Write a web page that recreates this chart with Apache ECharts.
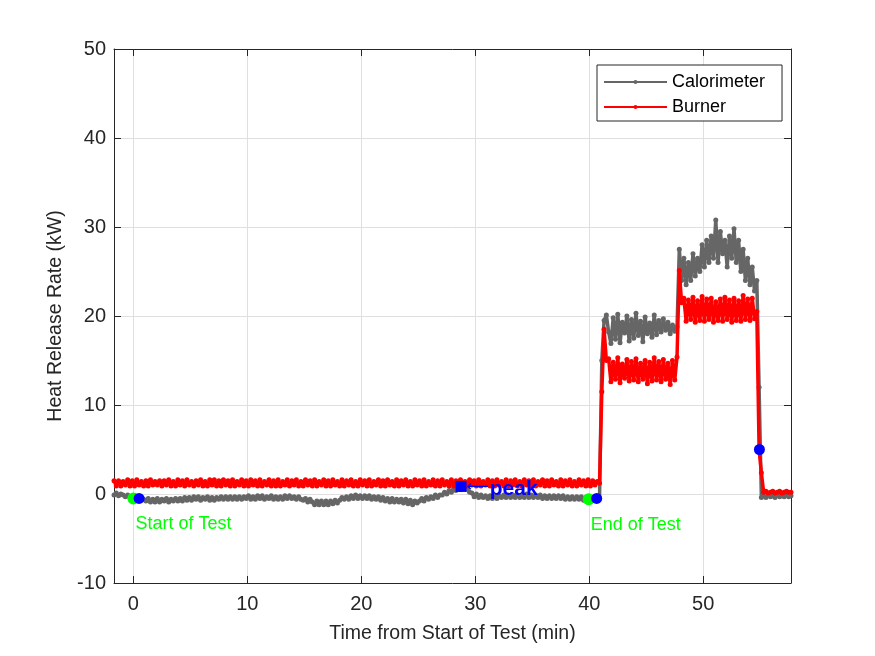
<!DOCTYPE html>
<html>
<head>
<meta charset="utf-8">
<title>Heat Release Rate</title>
<script src="https://cdn.jsdelivr.net/npm/echarts@6/dist/echarts.min.js"></script>
<style>
  html, body { margin: 0; padding: 0; background: #ffffff; }
  #chart { width: 875px; height: 656px; }
</style>
</head>
<body>
<div id="chart"></div>
<script>
// logged readings, one every 0.2 min starting at -1.7 min
var timeStart = -1.7;
var timeStep = 0.2;

// Calorimeter (kW)
var calorimeterBefore = [
  -0.1,0.1,-0.2,0.0,-0.1,-0.3,-0.1,-0.4,
  -0.3,-0.6,-0.4,-0.7,-0.5,-0.6,
  -0.8,-0.5,-0.9,-0.6,-0.9,-0.5,-0.9,-0.6,-0.8,-0.5,
  -0.9,-0.6,-0.8,-0.5,-0.8,-0.5,-0.8,-0.4,-0.7,-0.4,
  -0.7,-0.3,-0.6,-0.3,-0.7,-0.4,-0.6,-0.3,-0.7,-0.4,
  -0.7,-0.4,-0.6,-0.3,-0.6,-0.3,-0.6,-0.3,-0.6,-0.3,
  -0.6,-0.3,-0.6,-0.3,
  -0.5,-0.2,-0.6,-0.3,-0.6,-0.2,-0.5,-0.2,-0.6,-0.3,
  -0.5,-0.2,-0.6,-0.3,-0.6,-0.3,-0.6,-0.2,-0.5,-0.2,
  -0.5,-0.3,-0.6,-0.3,-0.6,
  -0.7,-0.5,-0.9,-0.6,-0.9,
  -1.2,-0.8,-1.2,-0.8,-1.2,-0.8,-1.2,-0.8,-1.1,-0.7,-1.0,
  -0.7,-0.4,-0.6,-0.3,-0.6,-0.2,-0.5,-0.1,-0.5,-0.2,
  -0.5,-0.2,-0.5,-0.2,-0.6,-0.3,-0.6,-0.3,-0.7,-0.4,
  -0.8,-0.5,-0.9,-0.5,-0.9,-0.6,-0.9,-0.6,-1.0,-0.6,-1.1,-0.7,-1.2,-0.8,-1.0,
  -0.8,-0.5,-0.8,-0.4,-0.6,-0.3,-0.5,-0.1,-0.4,-0.1,
  -0.1,0.2,0.0,0.4,0.2,0.6,0.4,0.8,0.5,0.9,0.6,0.5,0.2,
  0.1,-0.3,0.0,-0.4,-0.1,-0.4,-0.2,
  -0.5,-0.2,-0.5,-0.1,-0.5,-0.2,-0.4,-0.1,-0.4,-0.1,
  -0.4,-0.1,-0.4,-0.1,-0.4,-0.1,-0.4,0.0,-0.4,-0.1,
  -0.4,-0.1,-0.4,-0.1,-0.5,-0.2,-0.5,-0.2,-0.5,-0.2,
  -0.5,-0.2,-0.5,-0.2,-0.6,-0.3,-0.6,-0.3,-0.6,-0.3,
  -0.6,-0.3,-0.7,-0.4,
  -0.7,-0.4,-0.7,-0.4,-0.7,-0.5
];
var calorimeterStage1 = [
  15.0,19.5,20.1,
  18.2,16.9,19.8,17.4,20.2,17.0,19.3,18.1,20.0,17.2,
  19.6,17.5,20.3,17.8,19.4,17.1,19.9,18.0,19.2,17.6,
  20.1,17.9,19.5,18.2,19.7,18.4,19.3,18.0,19.0,18.3,
  18.8
];
var calorimeterStage2 = [
  27.5,24.0,
  26.5,23.5,26.0,24.0,27.0,24.5,26.5,25.0,28.0,25.5,
  28.5,26.0,29.0,26.5,30.8,26.0,29.5,27.0,28.5,25.5,
  29.0,26.5,29.8,26.0,28.5,25.0,27.5,24.0,26.5,23.5,
  25.5,22.8,
  24.0,12.0
];
var calorimeterAfter = [
  -0.4,-0.2,-0.4,-0.1,-0.3,-0.2,-0.4,-0.1,-0.3,-0.2,-0.3,-0.1,-0.3,-0.2
];

// Burner (kW)
var burnerBefore = [
  1.5,0.9,1.5,0.9,1.4,1.0,1.6,0.9,1.5,0.9,
  1.6,1.0,1.4,0.9,1.5,0.9,1.6,1.0,1.4,1.0,
  1.5,0.9,1.5,1.0,1.6,0.9,1.4,0.9,1.6,1.0,
  1.5,0.9,1.6,1.0,1.4,0.9,1.5,1.0,1.6,0.9,
  1.4,0.9,1.6,1.0,1.6,0.9,1.5,0.9,1.6,1.0,
  1.5,0.9,1.6,0.9,1.4,1.0,1.6,0.9,1.5,0.9,
  1.6,1.0,1.5,0.9,1.6,0.9,1.4,1.0,1.6,0.9,
  1.5,0.9,1.6,0.9,1.4,1.0,1.6,0.9,1.5,1.0,
  1.6,0.9,1.4,0.9,1.6,1.0,1.5,0.9,1.6,0.9,
  1.4,1.0,1.6,0.9,1.5,0.9,1.6,1.0,1.4,0.9,
  1.6,0.9,1.5,1.0,1.6,0.9,1.4,0.9,1.6,1.0,
  1.5,0.9,1.6,0.9,1.4,1.0,1.6,0.9,1.5,0.9,
  1.6,1.0,1.4,0.9,1.6,0.9,1.5,1.0,1.6,0.9,
  1.4,0.9,1.6,1.0,1.5,0.9,1.6,0.9,1.4,1.0,
  1.6,0.9,1.5,0.9,1.6,1.0,1.4,0.9,1.6,0.9,
  1.5,1.0,1.6,0.9,1.4,0.9,1.6,1.0,1.5,0.9,
  1.6,0.9,1.4,1.0,1.6,0.9,1.5,0.9,1.6,1.0,
  1.4,0.9,1.6,0.9,1.5,1.0,1.6,0.9,1.4,0.9,
  1.6,1.0,1.5,0.9,1.6,0.9,1.4,1.0,1.6,0.9,
  1.5,0.9,1.6,1.0,1.4,0.9,1.6,0.9,1.5,1.0,
  1.6,0.9,1.4,0.9,1.6,1.0,1.5,0.9,1.6,0.9,
  1.5,1.0,1.4,1.2
];
var burnerStage1 = [
  11.5,18.5,15.0,
  15.2,12.6,14.8,12.9,15.3,12.5,14.6,13.0,15.1,12.7,
  14.9,12.8,15.2,12.6,14.7,12.9,15.0,12.4,14.8,12.7,
  15.3,12.8,14.9,12.6,15.1,12.9,14.7,12.3,15.0,12.8,
  15.4
];
var burnerStage2 = [
  25.1,21.5,
  22.0,19.4,21.8,19.6,22.1,19.3,21.7,19.5,22.2,19.4,
  21.9,19.6,22.0,19.3,21.6,19.5,21.9,19.4,22.1,19.6,
  21.8,19.3,22.0,19.5,21.7,19.4,22.3,19.6,21.9,19.5,
  22.0,19.7,
  20.5,5.0
];
var burnerAfter = [
  2.4,0.2,0.3,0.1,0.2,0.3,0.1,0.2,0.3,0.1,0.2,0.3,0.2,0.2
];

// start / end of test marks
var testMarkTimes = [0, 39.95];
var testMarkValues = [-0.5, -0.6];
var testMarkLabels = ['Start of Test', 'End of Test'];
var stepMarkTimes = [0.5, 40.65, 54.93];
var stepMarkValues = [-0.5, -0.5, 5.0];
var peakTimes = [28.75];
var peakValues = [0.85];

var calorimeterKW = calorimeterBefore.concat(calorimeterStage1, calorimeterStage2, calorimeterAfter);
var burnerKW = burnerBefore.concat(burnerStage1, burnerStage2, burnerAfter);

function withTime(values) {
  return values.map(function (v, i) {
    return [Math.round((timeStart + i * timeStep) * 10) / 10, v];
  });
}
function zipPairs(xs, ys) {
  return xs.map(function (x, i) { return [x, ys[i]]; });
}

var axisColor = '#262626';
var fontName = 'Liberation Sans, Arial, sans-serif';

var chart = echarts.init(document.getElementById('chart'));
var option = {
  animation: false,
  backgroundColor: '#ffffff',
  grid: { left: 114, right: 84, top: 49, bottom: 73 },
  legend: {
    data: ['Calorimeter', 'Burner'],
    orient: 'vertical',
    left: 597,
    top: 65,
    padding: [8, 17, 5, 6],
    itemWidth: 63,
    itemHeight: 5,
    itemGap: 7,
    backgroundColor: '#ffffff',
    borderColor: axisColor,
    borderWidth: 1,
    textStyle: { color: '#000000', fontSize: 18, fontFamily: fontName }
  },
  xAxis: [{
    type: 'value',
    min: -1.7,
    max: 57.7,
    name: 'Time from Start of Test (min)',
    nameLocation: 'middle',
    nameGap: 41,
    nameTextStyle: { color: axisColor, fontSize: 19.5, fontFamily: fontName },
    axisLine: { onZero: false, lineStyle: { color: axisColor, width: 1 } },
    axisTick: { inside: true, length: 7, lineStyle: { color: axisColor } },
    axisLabel: {
      color: axisColor, fontSize: 20, fontFamily: fontName, margin: 11,
      showMinLabel: false, showMaxLabel: false,
      formatter: function (v) { return v % 10 === 0 ? String(v) : ''; }
    },
    splitLine: { show: true, lineStyle: { color: '#dfdfdf', width: 1 } }
  }, {
    type: 'value',
    position: 'top',
    min: -1.7,
    max: 57.7,
    axisLine: { onZero: false, lineStyle: { color: axisColor, width: 1 } },
    axisTick: { inside: true, length: 7, lineStyle: { color: axisColor } },
    axisLabel: { show: false },
    splitLine: { show: false }
  }],
  yAxis: [{
    type: 'value',
    min: -10,
    max: 50,
    interval: 10,
    name: 'Heat Release Rate (kW)',
    nameLocation: 'middle',
    nameGap: 48,
    nameTextStyle: { color: axisColor, fontSize: 19.5, fontFamily: fontName },
    axisLine: { show: true, onZero: false, lineStyle: { color: axisColor, width: 1 } },
    axisTick: { show: true, inside: true, length: 7, lineStyle: { color: axisColor } },
    axisLabel: { color: axisColor, fontSize: 20, fontFamily: fontName, margin: 8 },
    splitLine: { show: true, lineStyle: { color: '#dfdfdf', width: 1 } }
  }, {
    type: 'value',
    position: 'right',
    min: -10,
    max: 50,
    interval: 10,
    axisLine: { show: true, onZero: false, lineStyle: { color: axisColor, width: 1 } },
    axisTick: { show: true, inside: true, length: 7, lineStyle: { color: axisColor } },
    axisLabel: { show: false },
    splitLine: { show: false }
  }],
  series: [{
    name: 'Calorimeter',
    type: 'line',
    data: withTime(calorimeterKW),
    color: '#666666',
    symbol: 'circle',
    symbolSize: 5,
    showSymbol: true,
    lineStyle: { width: 3.5, color: '#666666' },
    itemStyle: { color: '#666666' },
    z: 2
  }, {
    name: 'Burner',
    type: 'line',
    data: withTime(burnerKW),
    color: '#ff0000',
    symbol: 'circle',
    symbolSize: 5,
    showSymbol: true,
    lineStyle: { width: 3.5, color: '#ff0000' },
    itemStyle: { color: '#ff0000' },
    z: 3
  }, {
    name: 'Test marks',
    type: 'scatter',
    data: zipPairs(testMarkTimes, testMarkValues),
    symbol: 'circle',
    symbolSize: 12,
    itemStyle: { color: '#00ff00', opacity: 1 },
    label: {
      show: true,
      position: 'right',
      distance: 0,
      offset: [-4, 26],
      color: '#00ff00',
      fontSize: 18,
      fontFamily: fontName,
      formatter: function (p) { return testMarkLabels[p.dataIndex]; }
    },
    z: 4
  }, {
    name: 'Step marks',
    type: 'scatter',
    data: zipPairs(stepMarkTimes, stepMarkValues),
    symbol: 'circle',
    symbolSize: 11,
    itemStyle: { color: '#0000ff', opacity: 1 },
    z: 5
  }, {
    name: 'Peak',
    type: 'scatter',
    data: zipPairs(peakTimes, peakValues),
    symbol: 'rect',
    symbolSize: 11,
    itemStyle: { color: '#0000ff', opacity: 1 },
    label: {
      show: true,
      position: 'right',
      distance: 0,
      offset: [0, 1],
      formatter: '{arrow|\u27F5}{txt|peak}',
      rich: {
        arrow: { color: '#0000ff', fontSize: 15.5, fontFamily: 'DejaVu Sans, sans-serif', padding: [0, 1, 0, 0] },
        txt: { color: '#0000ff', fontSize: 21, fontWeight: 'bold', fontFamily: fontName, padding: [4, 0, 0, 0] }
      }
    },
    z: 5
  }]
};
chart.setOption(option);
</script>
</body>
</html>
